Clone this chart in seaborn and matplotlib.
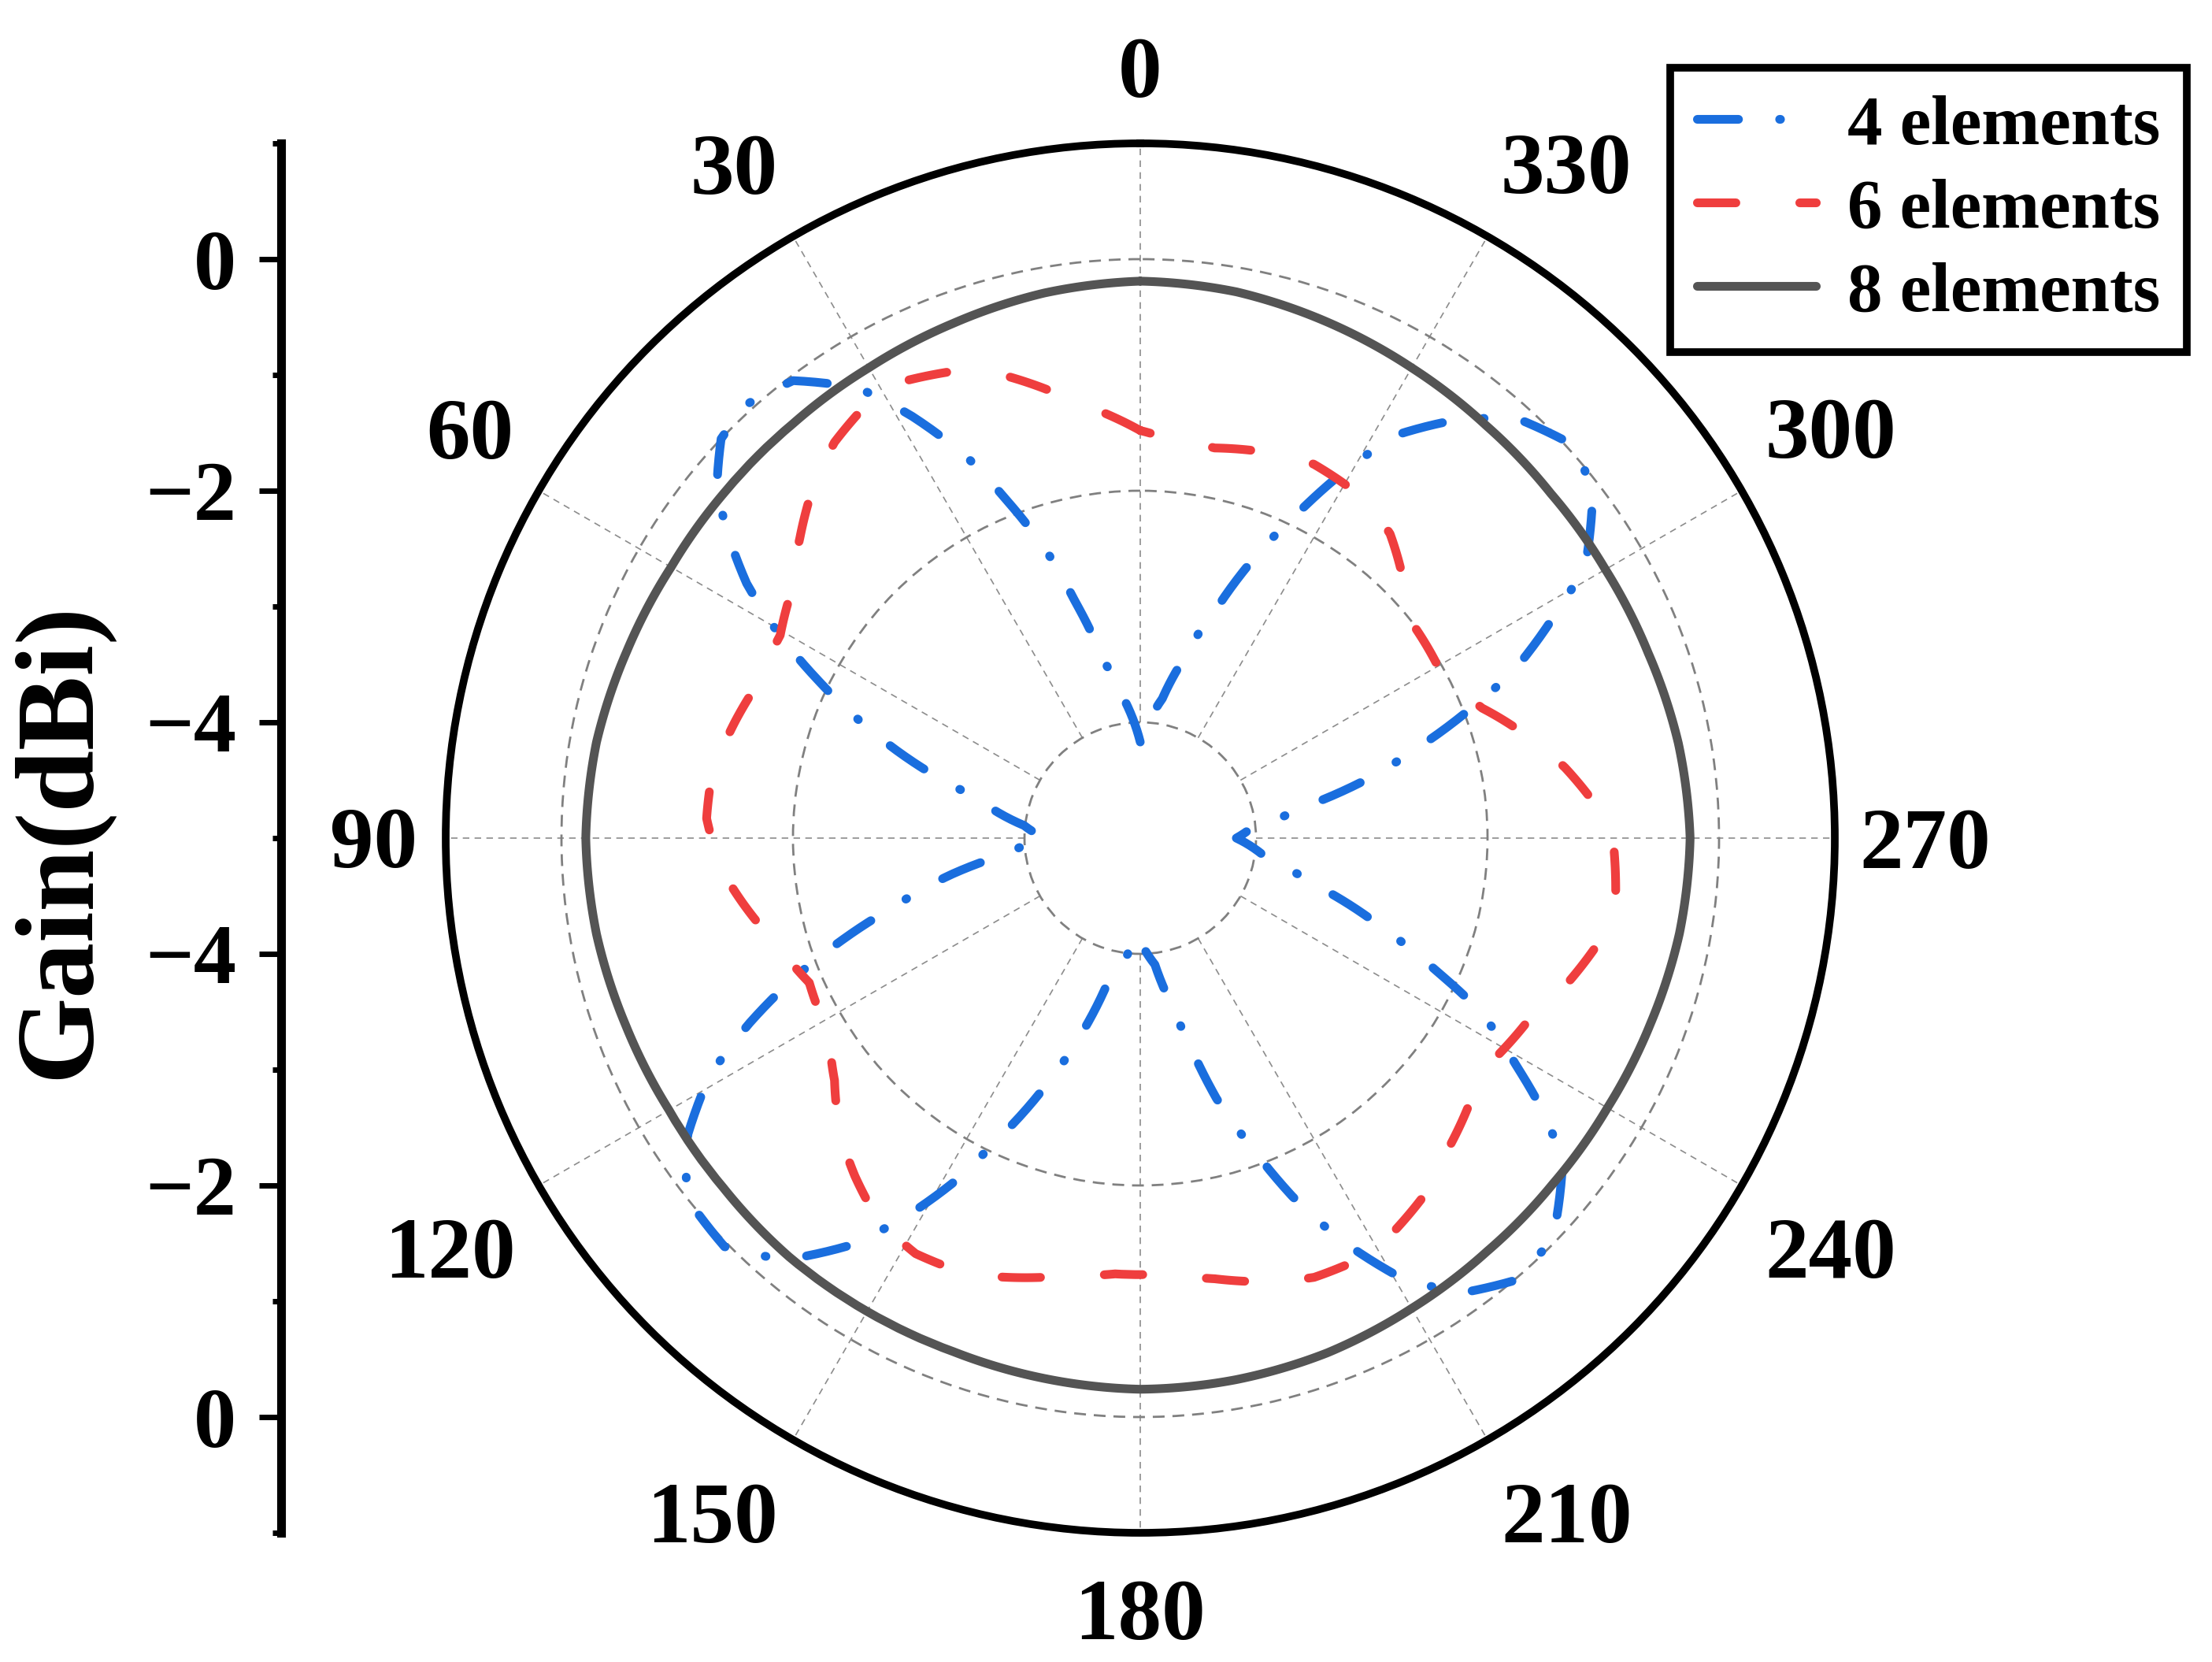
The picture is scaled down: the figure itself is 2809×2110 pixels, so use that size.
import numpy as np
import seaborn as sns
import matplotlib.pyplot as plt
from matplotlib.lines import Line2D
from matplotlib.transforms import offset_copy

# ---- data (angle in deg, gain in dBi) ----
ang_4 = [0, 7.2, 11.6, 15.4, 18.1, 21.6, 24.5, 28.4, 32.1, 37.2, 42.3, 46.4, 50.2, 53.0, 57.1, 60.5, 63.9, 67.8,
         71.7, 75.9, 83.8, 90, 96.8, 100.8, 105.6, 108.8, 112.1, 115.3, 118.9, 123.2, 128.4, 134.5, 139.9, 144.3,
         147.9, 151.4, 154.5, 158.4, 162.4, 167.3, 178.0, 186.6, 190.9, 193.4, 196.3, 199.9, 203.0, 206.7, 210.4,
         215.0, 220.1, 225.8, 231.4, 233.6, 235.5, 238.8, 243.0, 245.8, 249.6, 254.0, 259.9, 270, 275.4, 280.7,
         284.2, 287.9, 291.3, 294.1, 298.0, 301.5, 307.4, 312.1, 318.1, 323.0, 327.5, 331.0, 334.0, 338.0, 341.6,
         347.0, 351.0, 360]
gain_4 = [-4.17, -3.76, -3.44, -2.88, -2.39, -1.86, -1.38, -0.86, -0.41, -0.04, 0.06, 0.00, -0.24, -0.51, -0.95,
          -1.41, -1.90, -2.44, -2.96, -3.52, -3.99, -4.17, -3.84, -3.35, -2.79, -2.29, -1.76, -1.27, -0.75, -0.33,
          0.00, 0.035, -0.24, -0.66, -1.11, -1.60, -2.10, -2.62, -3.13, -3.72, -4.17, -3.90, -3.51, -3.17, -2.66,
          -2.15, -1.64, -1.10, -0.62, -0.20, 0.00, -0.03, -0.34, -0.53, -0.75, -1.20, -1.70, -2.19, -2.76, -3.31,
          -3.86, -4.17, -4.03, -3.57, -3.03, -2.50, -1.95, -1.47, -0.97, -0.49, -0.08, 0.055, -0.13, -0.48, -0.87,
          -1.39, -1.86, -2.41, -2.91, -3.46, -3.78, -4.17]

ang_6 = [0, 5.3, 11.6, 16.5, 22.2, 27.2, 32.2, 37.7, 43.6, 48.6, 54.8, 60.6, 67.8, 73.8, 81.6, 87.4, 94.2, 99.6,
         106.3, 113.6, 122.3, 128.4, 134.6, 139.8, 145.5, 151.6, 158.3, 163.9, 170.6, 176.7, 183.6, 189.6, 196.2,
         201.6, 207.6, 212.4, 219.7, 225.2, 231.8, 237.8, 244.6, 249.9, 257.1, 262.7, 269.1, 273.8, 279.4, 284.7,
         290.8, 296.9, 307.3, 313.8, 320.6, 326.4, 335.1, 341.5, 349.2, 355.5, 360]
gain_6 = [-1.48, -1.30, -1.05, -0.83, -0.65, -0.56, -0.57, -0.68, -0.88, -1.08, -1.31, -1.43, -1.44, -1.36, -1.26,
          -1.25, -1.37, -1.53, -1.73, -1.88, -1.82, -1.63, -1.36, -1.18, -1.00, -0.92, -0.95, -1.05, -1.17, -1.23,
          -1.23, -1.14, -1.01, -0.92, -0.90, -0.95, -1.08, -1.23, -1.36, -1.40, -1.30, -1.14, -0.94, -0.86, -0.91,
          -1.04, -1.28, -1.54, -1.84, -2.04, -2.01, -1.84, -1.60, -1.49, -1.44, -1.49, -1.57, -1.55, -1.48]

ang_8 = list(range(0, 361, 10))
gain_8 = [-0.19, -0.22, -0.27, -0.31, -0.33, -0.33, -0.32, -0.28, -0.23, -0.21, -0.23, -0.27, -0.30, -0.30,
          -0.28, -0.28, -0.28, -0.26, -0.24, -0.25, -0.27, -0.31, -0.34, -0.35, -0.34, -0.31, -0.27, -0.25,
          -0.28, -0.33, -0.36, -0.37, -0.35, -0.31, -0.26, -0.21, -0.19]

series = ['4 elements', '6 elements', '8 elements']
colors = ['#1a6ede', '#ef3e3e', '#545454']
styles = [(0, (4.7, 4.7, 0.1, 4.7)), (0, (4.4, 7.3)), '-']

theta_ticks = list(range(0, 360, 30))
label_angle = [0, 31.1, 58.6, 90, 120.7, 147.6, 180, 212.3, 239.3, 270, 300.7, 327.7]
label_dist = [978, 999, 997, 973, 1020, 1014, 980, 1013, 1020, 997, 1020, 1013]   # px from centre
r_ticks = [-5, -3, -1, 1, 3, 5]
r_ticklabels = ['0', '\u22122', '\u22124', '\u22124', '\u22122', '0']

plt.rcParams['font.family'] = ['Liberation Serif', 'DejaVu Serif']
plt.rcParams['font.weight'] = 'bold'

W, H = 2809, 2110
cx, cy, R = 1448, 1064, 882
px_per_db = R / 6.0

fig = plt.figure(figsize=(W / 100, H / 100), dpi=100)
ax = fig.add_axes([(cx - R) / W, (H - cy - R) / H, 2 * R / W, 2 * R / H], projection='polar')
ax.set_theta_zero_location('N')
ax.set_theta_direction(1)

# grid: dashed circles + dotted spokes (from -4 dB ring outward)
for a in theta_ticks:
    ax.plot([np.deg2rad(a)] * 2, [-4, 1], color='#8c8c8c', lw=1.2, linestyle=(0, (5, 4)), zorder=1)
ax.set_yticks([-4, -2, 0])
ax.set_yticklabels([])
ax.yaxis.grid(True, color='#808080', lw=2.0, linestyle=(0, (5.4, 3.6)))
ax.xaxis.grid(False)
ax.tick_params(axis='y', length=0)

n_grid = len(ax.lines)
for name, ang, gain, c, ls in zip(series, [ang_4, ang_6, ang_8], [gain_4, gain_6, gain_8], colors, styles):
    sns.lineplot(x=np.deg2rad(ang), y=gain, sort=False, estimator=None, ax=ax, color=c, lw=8,
                 linestyle=ls, dash_capstyle='round', solid_capstyle='round', zorder=3)

# draw the pattern segments along theta (smooth in polar space)
for ln in ax.lines[n_grid:]:
    ln.get_path()._interpolation_steps = 24

ax.set_xlabel('')
ax.set_ylabel('')
ax.set_ylim(-5, 1)

ax.set_xticks(np.deg2rad(theta_ticks))
ax.set_xticklabels([])
ax.set_xticks(np.deg2rad(np.arange(15, 360, 30)), minor=True)
ax.tick_params(axis='x', which='major', direction='in', length=24, width=6, color='black')
ax.tick_params(axis='x', which='minor', direction='in', length=10, width=5, color='black')
ax.spines['polar'].set_linewidth(7)

tr = offset_copy(ax.transData, fig=fig, y=-27, units='points')
for a, lab_a, d in zip(theta_ticks, label_angle, label_dist):
    ax.text(np.deg2rad(lab_a), -5 + d / px_per_db, str(a), transform=tr, ha='center', va='baseline',
            fontsize=80, fontweight='bold', clip_on=False)

# left radial scale
ax2 = fig.add_axes([357 / W, (H - cy - R) / H, 0.0005, 2 * R / H])
ax2.set_ylim(-6, 6)
for s in ['top', 'right', 'bottom']:
    ax2.spines[s].set_visible(False)
ax2.spines['left'].set_linewidth(8)
ax2.set_xticks([])
ax2.set_yticks(r_ticks)
ax2.set_yticklabels(r_ticklabels, fontsize=78, fontweight='bold')
ax2.set_yticks([-6, -4, -2, 0, 2, 4, 6], minor=True)
ax2.tick_params(axis='y', which='major', length=20, width=5, pad=21)
ax2.tick_params(axis='y', which='minor', length=8, width=5)
ax2.patch.set_visible(False)

fig.text(77 / W, 1 - 1067 / H, 'Gain(dBi)', rotation=90, ha='center', va='center', fontsize=102, fontweight='bold')

handles = [Line2D([], [], color=c, lw=8, linestyle=ls, dash_capstyle='round', solid_capstyle='round')
           for c, ls in zip(colors, styles)]
leg = fig.legend(handles, series, loc='upper right', bbox_to_anchor=(2777 / W, 1 - 86 / H),
                 bbox_transform=fig.transFigure, borderaxespad=0, fancybox=False, framealpha=1,
                 edgecolor='black', prop={'size': 64, 'weight': 'bold'}, handlelength=1.7,
                 handletextpad=0.45, labelspacing=0.28, borderpad=0.38)
leg.get_frame().set_linewidth(7)

fig.savefig('out.png', dpi=100)
